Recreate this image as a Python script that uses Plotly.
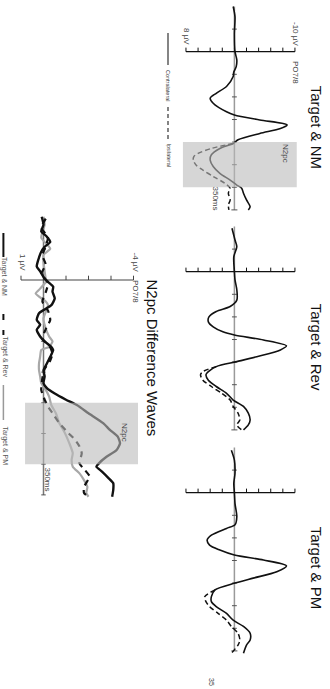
import plotly.graph_objects as go

W, H = 330, 689

# ---------------- data (time in ms, amplitude in µV) ----------------
# Target & NM
nm_common_t = [-100, -77, -40, 0, 18, 33, 45, 55, 77, 92, 103, 114, 133, 140, 151, 162, 170, 181, 195, 203]
nm_common_v = [0.2, -0.1, 0.0, -0.1, -0.4, -0.3, 0.1, 0.2, 1.3, 3.0, 4.0, 3.5, 1.3, 0.0, -4.2, -8.7, -7.6, -4.2, -0.6, 0.2]
nm_contra_t = [214, 228, 240, 254, 269, 284, 295, 302, 313, 328, 343, 350]
nm_contra_v = [2.4, 3.8, 4.0, 3.5, 2.4, 0.7, -0.4, -1.2, -1.5, -2.0, -2.6, -2.3]
nm_ipsi_t = [214, 225, 232, 240, 251, 262, 276, 291, 302, 313, 328, 339, 350]
nm_ipsi_v = [3.8, 6.0, 6.7, 6.8, 6.3, 5.2, 3.5, 1.6, 0.7, 1.0, 0.7, 1.0, 0.9]

# Target & Rev
rev_common_t = [-96, -70, -55, -33, 0, 18, 40, 63, 77, 88, 100, 111, 122, 133, 140, 151, 164, 173, 188, 199, 210]
rev_common_v = [0.4, -0.1, -0.4, 0.1, 0.0, -0.1, -0.4, -0.4, 0.7, 3.0, 4.2, 4.3, 3.5, 1.9, 0.0, -4.8, -8.6, -7.6, -3.7, -0.4, 3.0]
rev_contra_t = [221, 228, 240, 254, 269, 284, 298, 313, 328, 339, 350]
rev_contra_v = [4.3, 4.7, 4.3, 3.0, 1.3, 0.2, -1.5, -2.3, -2.6, -2.3, -1.5]
rev_ipsi_t = [221, 228, 240, 254, 269, 284, 298, 313, 328, 339, 350]
rev_ipsi_v = [5.2, 5.6, 5.2, 3.8, 2.1, 0.7, 0.2, -0.6, -0.9, -0.4, -1.2]

# Target & PM
pm_common_t = [-94, -72, -43, -21, 0, 24, 53, 71, 79, 94, 105, 116, 127, 138, 149, 162, 175, 189, 200, 215]
pm_common_v = [0.5, 0.0, -0.1, 0.1, 0.0, -0.1, -0.4, -0.1, 1.3, 3.8, 4.5, 4.1, 2.4, 0.0, -4.8, -8.6, -7.0, -3.1, -0.1, 3.2]
pm_contra_t = [230, 241, 252, 267, 282, 296, 311, 326, 337, 355]
pm_contra_v = [3.8, 3.8, 3.0, 1.3, 0.2, -1.5, -2.6, -2.6, -2.0, -1.5]
pm_ipsi_t = [230, 241, 252, 267, 282, 296, 311, 326, 337, 355]
pm_ipsi_v = [4.9, 4.7, 4.1, 2.7, 1.3, 0.5, -0.6, -0.9, -0.6, 0.5]

# N2pc difference waves
d_nm_t = [-103, -90, -79, -71, -62, -54, -46, -33, -22, -14, -5, 3, 11, 19, 30, 41, 49, 54, 65, 73, 81, 92, 100,
          109, 114, 125, 136, 147, 157, 168, 176, 185, 195, 204, 217, 233, 244, 255, 266, 277, 288, 299, 304, 312,
          323, 331, 342, 353]
d_nm_v = [0.08, 0.0, 0.1, -0.14, -0.3, -0.05, 0.1, 0.23, 0.3, 0.15, 0.0, -0.2, -0.43, -0.4, -0.5, -0.35, 0.0, 0.2,
          0.3, 0.15, 0.3, 0.15, -0.05, -0.35, -0.43, -0.3, -0.15, 0.0, -0.05, 0.0, -0.15, -0.5, -1.0, -1.5, -2.0,
          -2.65, -2.95, -3.3, -3.4, -3.25, -2.8, -2.45, -2.35, -2.6, -2.9, -3.1, -3.1, -3.05]
d_rev_t = [-100, -85, -70, -55, -40, -25, -10, 5, 20, 35, 50, 65, 80, 95, 110, 120, 131, 145, 160, 179, 195, 206,
           217, 233, 249, 260, 271, 282, 299, 310, 320, 337, 347, 353]
d_rev_v = [-0.1, 0.1, -0.2, -0.1, 0.05, -0.1, 0.1, -0.2, -0.1, 0.05, -0.2, -0.3, -0.1, 0.05, -0.3, -0.4, -0.3,
           -0.05, 0.05, 0.1, -0.05, -0.2, -0.4, -0.7, -1.1, -1.4, -1.6, -1.7, -1.6, -1.85, -2.05, -1.8, -1.8, -2.0]
d_pm_t = [-103, -90, -69, -51, -41, -30, -14, 3, 14, 22, 27, 35, 41, 52, 63, 79, 92, 100, 109, 114, 125, 136, 147,
          157, 168, 179, 190, 204, 217, 233, 249, 266, 282, 293, 304, 315, 326, 337, 347, 353]
d_pm_v = [0.0, -0.05, 0.1, -0.3, 0.0, 0.0, -0.05, -0.1, 0.15, 0.35, 0.2, -0.1, -0.2, -0.1, 0.0, -0.1, -0.25, -0.4,
          -0.25, 0.1, 0.15, 0.2, 0.2, 0.15, 0.1, -0.1, -0.25, -0.35, -0.55, -0.7, -0.95, -1.15, -1.3, -1.25, -1.3,
          -1.6, -1.8, -1.95, -1.9, -2.0]

panel_titles = ["Target & NM", "Target & Rev", "Target & PM"]
diff_title = "N2pc Difference Waves"
legend_panel = ["Contralateral", "Ipsilateral"]
legend_diff = ["Target & NM", "Target & Rev", "Target & PM"]

# ---------------- layout geometry (pixels) ----------------
def fx(px):
    return px / W


def fy(py):
    return 1 - py / H


P_XR = [9, -11]
P_X0, P_X1 = 179.9, 301.0
P_PXMS = 0.452
T_RANGE = [360, -110]
panel_zero = [51.7, 271.7, 492.7]

D_XR = [1.5, -4.5]
D_X0, D_X1 = 9.75, 144.75
D_PXMS = 0.614
D_ZERO = 280.0

fig = go.Figure()
layout_axes = {}
shapes = []
annotations = []

TITLE_FONT = dict(family="Liberation Sans Narrow, Arial Narrow, Liberation Sans, Arial", size=15, color="#111")
SMALL_FONT = dict(family="Liberation Sans, Arial", size=8, color="#444")


def add_axes(i, xr, x0, x1, zero, pxms):
    top = zero + T_RANGE[1] * pxms
    bot = zero + T_RANGE[0] * pxms
    xa = "xaxis" if i == 1 else f"xaxis{i}"
    ya = "yaxis" if i == 1 else f"yaxis{i}"
    layout_axes[xa] = dict(domain=[fx(x0), fx(x1)], range=xr, visible=False, anchor=f"y{'' if i == 1 else i}",
                           fixedrange=True)
    layout_axes[ya] = dict(domain=[fy(bot), fy(top)], range=T_RANGE, visible=False,
                           anchor=f"x{'' if i == 1 else i}", fixedrange=True)
    return (f"x{'' if i == 1 else i}", f"y{'' if i == 1 else i}")


def line(xref, yref, x0, y0, x1, y1, color, width, dash=None, layer="below"):
    d = dict(type="line", xref=xref, yref=yref, x0=x0, y0=y0, x1=x1, y1=y1,
             line=dict(color=color, width=width), layer=layer)
    if dash:
        d["line"]["dash"] = dash
    shapes.append(d)


def ann(text, px, py, font, angle=90):
    annotations.append(dict(text=text, x=fx(px), y=fy(py), xref="paper", yref="paper", showarrow=False,
                            textangle=angle, xanchor="center", yanchor="middle", font=font))


sets = [
    (nm_common_t, nm_common_v, nm_contra_t, nm_contra_v, nm_ipsi_t, nm_ipsi_v),
    (rev_common_t, rev_common_v, rev_contra_t, rev_contra_v, rev_ipsi_t, rev_ipsi_v),
    (pm_common_t, pm_common_v, pm_contra_t, pm_contra_v, pm_ipsi_t, pm_ipsi_v),
]

for k in range(3):
    i = k + 1
    xr, yr = add_axes(i, P_XR, P_X0, P_X1, panel_zero[k], P_PXMS)
    ct, cv, cot, cov, ipt, ipv = sets[k]
    line(xr, yr, 0, -100, 0, 350, "#9a9a9a", 1.5)
    line(xr, yr, 8, 0, -10, 0, "#111", 1.3)
    for v in range(8, -11, -2):
        line(xr, yr, v, -9, v, 0, "#111", 1)
    for t in [-50, 50, 100, 150, 200, 250, 300]:
        line(xr, yr, 0.4, t, -0.4, t, "#555", 1)
    line(xr, yr, 0.5, 350, -0.5, 350, "#555", 1)
    fig.add_trace(go.Scatter(x=cv[-1:] + ipv, y=ct[-1:] + ipt, mode="lines", xaxis=xr, yaxis=yr,
                             line=dict(color="#111", width=1.5, dash="5px,3px", shape="spline", smoothing=0.8),
                             showlegend=False, hoverinfo="skip"))
    fig.add_trace(go.Scatter(x=cv + cov, y=ct + cot, mode="lines", xaxis=xr, yaxis=yr,
                             line=dict(color="#111", width=1.6, shape="spline", smoothing=0.8),
                             showlegend=False, hoverinfo="skip"))
    ann(panel_titles[k], 316, panel_zero[k] + 75, TITLE_FONT)
    if k == 0:
        shapes.append(dict(type="rect", xref=xr, yref=yr, x0=8.5, x1=-10.3, y0=200, y1=300,
                           fillcolor="#bbbbbb", opacity=0.6, line=dict(width=0), layer="above"))
        ann("-10 µV", 295.5, 33.5, SMALL_FONT)
        ann("8 µV", 186.5, 36.5, SMALL_FONT)
        ann("PO7/8", 295.5, 72.5, SMALL_FONT)
        ann("N2pc", 285.5, 153.5, SMALL_FONT)
        ann("350ms", 215.5, 198, SMALL_FONT)
        shapes.append(dict(type="line", xref="paper", yref="paper", x0=fx(168), x1=fx(168), y0=fy(33), y1=fy(65),
                           line=dict(color="#333", width=1.2)))
        shapes.append(dict(type="line", xref="paper", yref="paper", x0=fx(168), x1=fx(168), y0=fy(107),
                           y1=fy(140), line=dict(color="#333", width=1.2, dash="4px,3px")))
        small_leg = dict(family="Liberation Sans, Arial", size=5.5, color="#333")
        ann(legend_panel[0], 168.5, 85.5, small_leg)
        ann(legend_panel[1], 168.5, 155, small_leg)

# difference panel
xr, yr = add_axes(4, D_XR, D_X0, D_X1, D_ZERO, D_PXMS)
line(xr, yr, 0, -100, 0, 350, "#777", 1.5)
line(xr, yr, 1, 0, -4, 0, "#444", 1.2)
for v in range(1, -5, -1):
    line(xr, yr, v, -7, v, 0, "#444", 1)
for t in [-50, 50, 100, 150, 200, 250, 300, 350]:
    line(xr, yr, 0.1, t, -0.1, t, "#555", 1)

fig.add_trace(go.Scatter(x=d_pm_v, y=d_pm_t, mode="lines", xaxis=xr, yaxis=yr,
                         line=dict(color="#a8a8a8", width=2.2, shape="spline", smoothing=0.5),
                         showlegend=False, hoverinfo="skip"))
fig.add_trace(go.Scatter(x=d_rev_v, y=d_rev_t, mode="lines", xaxis=xr, yaxis=yr,
                         line=dict(color="#111", width=2.2, dash="6px,5px", shape="spline", smoothing=0.5),
                         showlegend=False, hoverinfo="skip"))
fig.add_trace(go.Scatter(x=d_nm_v, y=d_nm_t, mode="lines", xaxis=xr, yaxis=yr,
                         line=dict(color="#111", width=2.4, shape="spline", smoothing=0.5),
                         showlegend=False, hoverinfo="skip"))
shapes.append(dict(type="rect", xref=xr, yref=yr, x0=0.82, x1=-4.2, y0=200, y1=300,
                   fillcolor="#bbbbbb", opacity=0.6, line=dict(width=0), layer="above"))
ann(diff_title, 152, 357.5, TITLE_FONT)
ann("-4 µV", 135, 262.5, SMALL_FONT)
ann("1 µV", 22.5, 262.5, SMALL_FONT)
ann("PO7/8", 135, 291, SMALL_FONT)
ann("N2pc", 124.5, 432.5, SMALL_FONT)
ann("350ms", 47.5, 479, SMALL_FONT)

shapes.append(dict(type="line", xref="paper", yref="paper", x0=fx(3.4), x1=fx(3.4), y0=fy(233), y1=fy(257),
                   line=dict(color="#111", width=2)))
for a, b in [(314, 320), (330, 335)]:
    shapes.append(dict(type="line", xref="paper", yref="paper", x0=fx(3.4), x1=fx(3.4), y0=fy(a), y1=fy(b),
                       line=dict(color="#111", width=2)))
shapes.append(dict(type="line", xref="paper", yref="paper", x0=fx(3.4), x1=fx(3.4), y0=fy(385), y1=fy(420),
                   line=dict(color="#999", width=1.5)))
leg_font = dict(family="Liberation Sans, Arial", size=7, color="#555")
ann(legend_diff[0], 4.5, 276.5, leg_font)
ann(legend_diff[1], 4.5, 357, leg_font)
ann(legend_diff[2], 4.5, 446, leg_font)

ann("35", 212, 682, dict(family="Liberation Sans, Arial", size=7, color="#444"))

fig.update_layout(width=W, height=H, margin=dict(l=0, r=0, t=0, b=0), paper_bgcolor="white",
                  plot_bgcolor="rgba(0,0,0,0)", shapes=shapes, annotations=annotations, **layout_axes)

fig.write_html("out.html", config={"displayModeBar": False})
